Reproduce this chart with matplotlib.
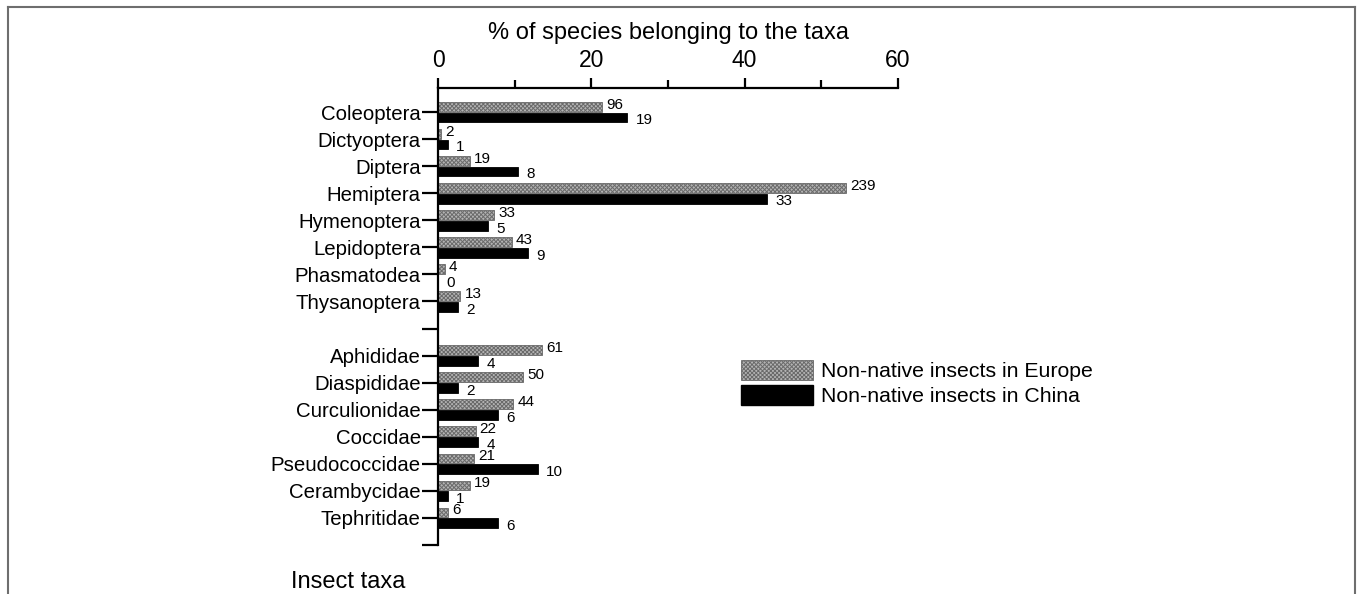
import matplotlib
matplotlib.use('Agg')
import matplotlib.pyplot as plt
from matplotlib.patches import Patch
from matplotlib.lines import Line2D

plt.rcParams['font.family'] = ['Liberation Sans', 'DejaVu Sans']
plt.rcParams['hatch.linewidth'] = 0.7

# ---- data ----
orders = ["Coleoptera", "Dictyoptera", "Diptera", "Hemiptera", "Hymenoptera",
          "Lepidoptera", "Phasmatodea", "Thysanoptera"]
families = ["Aphididae", "Diaspididae", "Curculionidae", "Coccidae",
            "Pseudococcidae", "Cerambycidae", "Tephritidae"]

europe_pct_orders = [21.4, 0.4, 4.2, 53.2, 7.3, 9.6, 0.9, 2.9]
china_pct_orders = [24.7, 1.3, 10.4, 42.9, 6.5, 11.7, 0.0, 2.6]
europe_n_orders = [96, 2, 19, 239, 33, 43, 4, 13]
china_n_orders = [19, 1, 8, 33, 5, 9, 0, 2]

europe_pct_families = [13.6, 11.1, 9.8, 4.9, 4.7, 4.2, 1.3]
china_pct_families = [5.2, 2.6, 7.8, 5.2, 13.0, 1.3, 7.8]
europe_n_families = [61, 50, 44, 22, 21, 19, 6]
china_n_families = [4, 2, 6, 4, 10, 1, 6]

x_ticks = [0, 20, 40, 60]
x_minor = [10, 30, 50]
series_labels = ["Non-native insects in Europe", "Non-native insects in China"]

# ---- assemble ----
labels = orders + [""] + families + [""]
n_ord = len(orders)
pos_orders = list(range(n_ord))
pos_fam = [n_ord + 1 + i for i in range(len(families))]
positions = pos_orders + pos_fam
europe_pct = europe_pct_orders + europe_pct_families
china_pct = china_pct_orders + china_pct_families
europe_n = europe_n_orders + europe_n_families
china_n = china_n_orders + china_n_families

W, H = 1360, 594
fig = plt.figure(figsize=(W / 100, H / 100), dpi=100)
ax = fig.add_axes([438 / W, 1 - 545 / H, 460 / W, 457 / H])

bh = 0.36
off = 0.2
eu_face = '#b4b4b4'
eu_edge = '#6a6a6a'
ax.barh([p - off for p in positions], europe_pct, height=bh, color=eu_face,
        edgecolor=eu_edge, hatch='xxxxxxxx', linewidth=0.6)
ax.barh([p + off for p in positions], china_pct, height=bh, color='black',
        edgecolor='black', linewidth=0.6)

for p, v, n in zip(positions, europe_pct, europe_n):
    ax.annotate(str(n), xy=(v, p - off), xytext=(3, 1.5), textcoords='offset points',
                ha='left', va='center', fontsize=11)
for p, v, n in zip(positions, china_pct, china_n):
    ax.annotate(str(n), xy=(v, p + off), xytext=(6, -2), textcoords='offset points',
                ha='left', va='center', fontsize=11)

ax.set_xlim(0, 60)
ax.set_ylim(len(labels) - 1, -0.89)
ax.set_yticks(range(len(labels)))
ax.set_yticklabels(labels, fontsize=14.7)

ax.xaxis.tick_top()
ax.xaxis.set_label_position('top')
ax.set_xticks(x_ticks)
ax.set_xticks(x_minor, minor=True)
ax.set_xticklabels([str(t) for t in x_ticks], fontsize=16.5)
ax.set_xlabel('% of species belonging to the taxa', fontsize=17, labelpad=7)

for s in ['right', 'bottom']:
    ax.spines[s].set_visible(False)
for s in ['top', 'left']:
    ax.spines[s].set_linewidth(1.6)
ax.tick_params(axis='y', which='major', direction='out', length=11.5, width=1.6, pad=1)
ax.tick_params(axis='x', which='major', direction='out', length=7, width=1.6, pad=4.5)
ax.tick_params(axis='x', which='minor', direction='out', length=6, width=1.6)

handles = [Patch(facecolor=eu_face, edgecolor=eu_edge, hatch='xxxxxxxx', linewidth=0.6),
           Patch(facecolor='black', edgecolor='black')]
fig.legend(handles, series_labels, loc='upper left', bbox_to_anchor=(741 / W, 1 - 360 / H),
           frameon=False, fontsize=15.3, handlelength=3.4, handleheight=1.1,
           handletextpad=0.35, labelspacing=0.15, borderpad=0, borderaxespad=0)

fig.text(291 / W, 1 - 582 / H, 'Insect taxa', fontsize=17, ha='left', va='center')

# figure frame (top, left, right)
fc = '#6e6e6e'
fig.add_artist(Line2D([7.5 / W, 7.5 / W], [0, 1 - 6.5 / H], color=fc, lw=1.5, transform=fig.transFigure))
fig.add_artist(Line2D([1354.5 / W, 1354.5 / W], [0, 1 - 6.5 / H], color=fc, lw=1.5, transform=fig.transFigure))
fig.add_artist(Line2D([7.5 / W, 1354.5 / W], [1 - 6.5 / H, 1 - 6.5 / H], color=fc, lw=1.5, transform=fig.transFigure))

fig.savefig('out.png', dpi=100)
